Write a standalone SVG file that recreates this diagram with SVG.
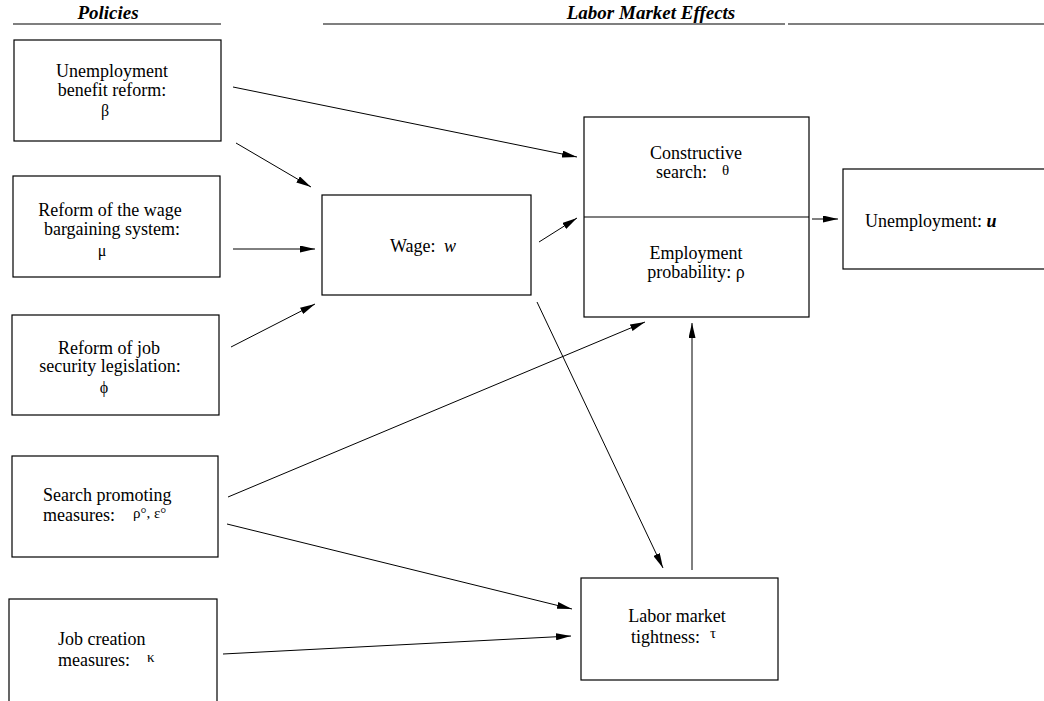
<svg xmlns="http://www.w3.org/2000/svg" width="1044" height="701" viewBox="0 0 1044 701">
<defs>
<marker id="ah" viewBox="0 0 15 7" refX="15" refY="3.5" markerWidth="15" markerHeight="7" markerUnits="userSpaceOnUse" orient="auto">
<path d="M0,0 L15,3.5 L0,7 Z" fill="#000"/>
</marker>
</defs>
<style>
.box{fill:#fff;stroke:#000;stroke-width:1.2}
.t{font-family:"Liberation Serif","Times New Roman",serif;font-size:18px;fill:#000}
.c{text-anchor:middle}
.g{font-size:15px}
.gl{font-size:16px}
.hd{font-family:"Liberation Serif","Times New Roman",serif;font-size:19px;font-weight:bold;font-style:italic;fill:#000;text-anchor:middle}
.hl{stroke:#000;stroke-width:1.2}
.cn{stroke:#000;stroke-width:1;fill:none;marker-end:url(#ah)}
</style>
<rect width="1044" height="701" fill="#fff"/>
<g id="headers">
<text class="hd" x="108" y="19">Policies</text>
<line class="hl" x1="13" y1="24" x2="221" y2="24"/>
<text class="hd" x="651" y="19">Labor Market Effects</text>
<line class="hl" x1="323" y1="24" x2="785" y2="24"/>
<line class="hl" x1="788" y1="24" x2="1044" y2="24"/>
</g>
<g id="n-benefit">
<rect class="box" x="14" y="40" width="207" height="101"/>
<text class="t c" x="112" y="77">Unemployment</text>
<text class="t c" x="112" y="96">benefit reform:</text>
<text class="t c gl" x="105" y="116">β</text>
</g>
<g id="n-wagebarg">
<rect class="box" x="13" y="176" width="207" height="101"/>
<text class="t c" x="110" y="216">Reform of the wage</text>
<text class="t c" x="112" y="235">bargaining system:</text>
<text class="t c gl" x="102" y="256">μ</text>
</g>
<g id="n-jobsec">
<rect class="box" x="12" y="315" width="207" height="100"/>
<text class="t c" x="109" y="354">Reform of job</text>
<text class="t c" x="110" y="372">security legislation:</text>
<text class="t c gl" x="104" y="393">ϕ</text>
</g>
<g id="n-search">
<rect class="box" x="12" y="456" width="206" height="101"/>
<text class="t" x="43" y="501">Search promoting</text>
<text class="t" x="43" y="521">measures:<tspan class="g" x="133" dy="-3">ρ°, ε°</tspan></text>
</g>
<g id="n-jobcreation">
<rect class="box" x="9" y="599" width="208" height="106"/>
<text class="t" x="58" y="645">Job creation</text>
<text class="t" x="58" y="666">measures:<tspan class="g" x="147" dy="-4">κ</tspan></text>
</g>
<g id="n-wage">
<rect class="box" x="322" y="195" width="209" height="100"/>
<text class="t" x="390" y="252">Wage:<tspan font-style="italic" x="444">w</tspan></text>
</g>
<g id="n-search-emp">
<rect class="box" x="584" y="117" width="225" height="200"/>
<line class="hl" x1="584" y1="217" x2="809" y2="217"/>
<text class="t c" x="696" y="159">Constructive</text>
<text class="t" x="656" y="178">search:<tspan class="g" x="722" dy="-3">θ</tspan></text>
<text class="t c" x="696" y="259">Employment</text>
<text class="t c" x="696" y="278">probability:  ρ</text>
</g>
<g id="n-unemployment">
<rect class="box" x="843" y="169" width="210" height="100"/>
<text class="t" x="865" y="227">Unemployment:  <tspan font-style="italic" font-weight="bold">u</tspan></text>
</g>
<g id="n-tightness">
<rect class="box" x="581" y="578" width="197" height="102"/>
<text class="t c" x="677" y="622">Labor market</text>
<text class="t" x="631" y="643">tightness:<tspan class="g" x="710" dy="-5">τ</tspan></text>
</g>
<g id="connectors">
<line class="cn" x1="233" y1="87" x2="577" y2="157"/>
<line class="cn" x1="236" y1="143" x2="311" y2="187"/>
<line class="cn" x1="233" y1="249" x2="315" y2="249"/>
<line class="cn" x1="231" y1="347" x2="315" y2="304"/>
<line class="cn" x1="539" y1="242" x2="577" y2="218"/>
<line class="cn" x1="537" y1="302" x2="663" y2="568"/>
<line class="cn" x1="228" y1="497" x2="645" y2="322"/>
<line class="cn" x1="227" y1="524" x2="572" y2="609"/>
<line class="cn" x1="223" y1="654" x2="571" y2="636"/>
<line class="cn" x1="692" y1="570" x2="692" y2="323"/>
<line class="cn" x1="812" y1="219" x2="838" y2="219"/>
</g>
</svg>
